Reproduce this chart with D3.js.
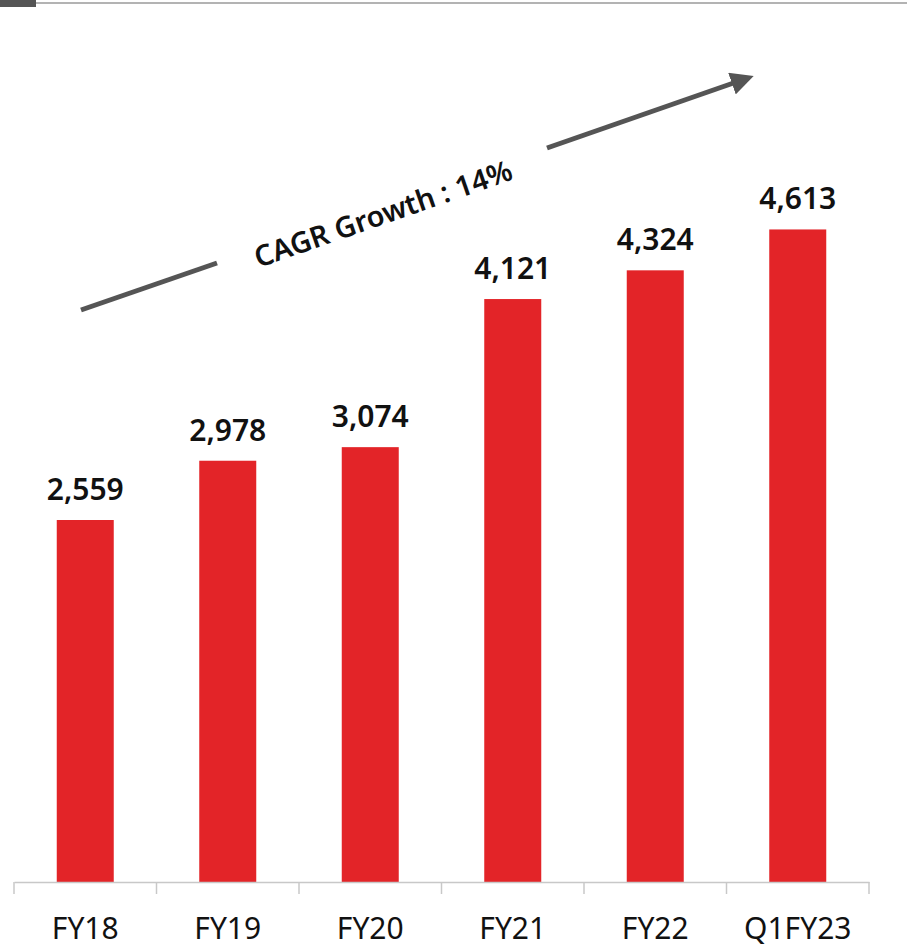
<!DOCTYPE html>
<html>
<head>
<meta charset="utf-8">
<script src="https://cdn.jsdelivr.net/npm/d3@7"></script>
<style>
  html, body { margin: 0; padding: 0; background: #fff; }
  svg { display: block; font-family: "Noto Sans", "Open Sans", sans-serif; }
</style>
</head>
<body>
<svg id="chart" width="907" height="948"></svg>
<script>
// data
const categories = ["FY18", "FY19", "FY20", "FY21", "FY22", "Q1FY23"];
const values = [2559, 2978, 3074, 4121, 4324, 4613];
const cagrLabel = "CAGR Growth : 14%";

let chart = d3.select("#chart");
let chart_width = 907;
let chart_height = 948;
let baseY = 882;

// header bar + rule
chart.append("rect").attr("x", 0).attr("y", 0).attr("width", 36).attr("height", 7).attr("fill", "#555");
chart.append("line").attr("x1", 36).attr("x2", chart_width).attr("y1", 3).attr("y2", 3)
    .attr("stroke", "#9a9a9a").attr("stroke-width", 1.5);

// scales
let x = d3.scaleBand()
    .domain(categories)
    .range([14, 869])
    .paddingInner(0.6)
    .paddingOuter(0.3);

let y = d3.scaleLinear()
    .domain([0, 6235])
    .range([baseY, 0]);

// bars
chart.selectAll("rect.bar")
    .data(values).enter()
    .append("rect")
        .attr("class", "bar")
        .attr("x", (d, i) => x(categories[i]))
        .attr("y", d => y(d))
        .attr("width", x.bandwidth())
        .attr("height", d => baseY - y(d))
        .attr("fill", "#e32428");

// value labels
chart.selectAll("text.val")
    .data(values).enter()
    .append("text")
        .attr("class", "val")
        .attr("x", (d, i) => x(categories[i]) + x.bandwidth() / 2)
        .attr("y", d => y(d) - 20)
        .attr("text-anchor", "middle")
        .attr("font-size", 30)
        .attr("font-weight", 600)
        .attr("fill", "#111")
        .text(d => d3.format(",")(d));

// x axis
let xAxis = d3.axisBottom(x).tickSize(0).tickFormat("");
let xAxisGroup = chart.append("g")
    .attr("transform", "translate(0," + baseY + ")")
    .call(xAxis);
xAxisGroup.select(".domain").attr("stroke", "#c8c8c8").attr("stroke-width", 1.5);

// boundary ticks between categories
let edges = d3.range(categories.length + 1).map(i => x(categories[0]) - x.step() * x.paddingOuter() + i * x.step());
chart.selectAll("line.tk")
    .data(edges).enter()
    .append("line")
        .attr("class", "tk")
        .attr("x1", d => d).attr("x2", d => d)
        .attr("y1", baseY).attr("y2", baseY + 12)
        .attr("stroke", "#c8c8c8").attr("stroke-width", 1.5);

// category labels
chart.selectAll("text.cat")
    .data(categories).enter()
    .append("text")
        .attr("class", "cat")
        .attr("x", d => x(d) + x.bandwidth() / 2)
        .attr("y", 939)
        .attr("text-anchor", "middle")
        .attr("font-size", 30)
        .attr("fill", "#111")
        .text(d => d);

// CAGR arrow
chart.append("defs").append("marker")
    .attr("id", "head")
    .attr("viewBox", "0 0 10 10")
    .attr("refX", 6).attr("refY", 5)
    .attr("markerWidth", 4.6).attr("markerHeight", 4.6)
    .attr("markerUnits", "strokeWidth")
    .attr("orient", "auto")
    .append("path").attr("d", "M0,0 L10,5 L0,10 Z").attr("fill", "#555");

let a0 = [81, 310], a1 = [745, 79];
chart.append("line")
    .attr("x1", a0[0]).attr("y1", a0[1]).attr("x2", 217).attr("y2", 263)
    .attr("stroke", "#555").attr("stroke-width", 5);
chart.append("line")
    .attr("x1", 547).attr("y1", 148).attr("x2", a1[0]).attr("y2", a1[1])
    .attr("stroke", "#555").attr("stroke-width", 5)
    .attr("marker-end", "url(#head)");

let ang = Math.atan2(a1[1] - a0[1], a1[0] - a0[0]) * 180 / Math.PI;
chart.append("text")
    .attr("transform", "translate(384,216) rotate(" + ang + ")")
    .attr("text-anchor", "middle")
    .attr("dominant-baseline", "middle")
    .attr("font-size", 29)
    .attr("font-weight", 600)
    .attr("fill", "#111")
    .text(cagrLabel);
</script>
</body>
</html>
